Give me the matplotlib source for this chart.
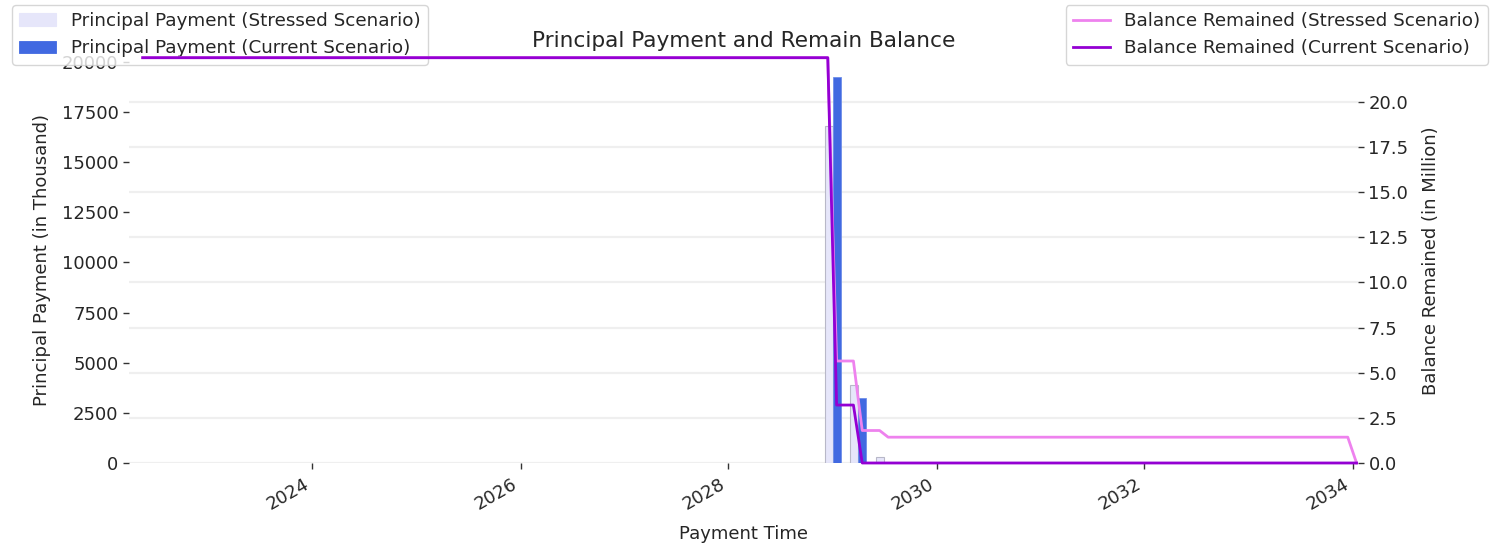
import matplotlib
matplotlib.use("Agg")
import matplotlib.pyplot as plt
import matplotlib.dates as mdates
import numpy as np
import pandas as pd

# ---- data ----
bar_dates = ["2029-01-01", "2029-04-01", "2029-07-01"]
principal_stressed = [16800, 3890, 310]      # in thousand
principal_current = [19240, 3220, 0]         # in thousand

bal_stressed_dates = ["2022-05-15", "2028-12-15", "2029-01-15", "2029-03-15",
                      "2029-04-15", "2029-06-15", "2029-07-15", "2033-12-15", "2034-01-15"]
bal_stressed = [22.45, 22.45, 5.65, 5.65, 1.80, 1.80, 1.43, 1.43, 0.0]   # in million

bal_current_dates = ["2022-05-15", "2028-12-15", "2029-01-15", "2029-03-15",
                     "2029-04-15", "2034-01-15"]
bal_current = [22.45, 22.45, 3.21, 3.21, 0.0, 0.0]                       # in million

x_limits = ["2022-03-28", "2034-01-20"]

# ---- style ----
txt = "#262626"
plt.rcParams.update({
    "font.family": ["DejaVu Sans"],
    "font.size": 13,
    "text.color": txt,
    "axes.labelcolor": txt,
    "xtick.color": txt,
    "ytick.color": txt,
})

fig = plt.figure(figsize=(14.92, 5.44), dpi=100)
L, R = 129 / 1492, 1358 / 1492
B, T = (544 - 463) / 544, (544 - 57.7) / 544
rect = [L, B, R - L, T - B]

ax_grid = fig.add_axes(rect, zorder=0)
ax = fig.add_axes(rect, zorder=1, sharex=ax_grid)
ax2 = fig.add_axes(rect, zorder=2, sharex=ax_grid)
for a in (ax, ax2):
    a.patch.set_visible(False)

bd = mdates.date2num(pd.to_datetime(bar_dates))
ax.bar(bd, principal_stressed, width=-28, align="edge", color="lavender",
       edgecolor="#b8b8c8", linewidth=0.8, label="Principal Payment (Stressed Scenario)")
ax.bar(bd, principal_current, width=28, align="edge", color="royalblue",
       edgecolor="#6f8fe8", linewidth=0.6, label="Principal Payment (Current Scenario)")

ds = mdates.date2num(pd.to_datetime(bal_stressed_dates))
dc = mdates.date2num(pd.to_datetime(bal_current_dates))
ax2.plot(ds, bal_stressed, color="violet", lw=2, clip_on=False,
         label="Balance Remained (Stressed Scenario)")
ax2.plot(dc, bal_current, color="darkviolet", lw=2, clip_on=False,
         label="Balance Remained (Current Scenario)")

ymax2 = max(bal_stressed + bal_current)
ax2.set_ylim(0, ymax2)
ax_grid.set_ylim(0, ymax2)
ax.set_ylim(0, max(principal_current + principal_stressed) * 1.05)

xl = mdates.date2num(pd.to_datetime(x_limits))
ax_grid.set_xlim(xl[0], xl[1])

# grid axes: only grid, aligned with right axis ticks
ax_grid.yaxis.set_major_locator(plt.MultipleLocator(2.5))
ax2.yaxis.set_major_locator(plt.MultipleLocator(2.5))
ax_grid.grid(axis="y", color="#efefef", lw=1.6)
ax_grid.tick_params(left=False, labelleft=False, bottom=False, labelbottom=False)
for s in ax_grid.spines.values():
    s.set_visible(False)

ax.yaxis.set_major_locator(plt.MultipleLocator(2500))
ax.xaxis.set_major_locator(mdates.YearLocator(2))
ax.xaxis.set_major_formatter(mdates.DateFormatter("%Y"))
ax.tick_params(axis="x", labelrotation=30, pad=5)
for lab in ax.get_xticklabels():
    lab.set_ha("right")
ax.tick_params(axis="both", length=4, width=1, color="#333333")

ax2.yaxis.tick_right()
ax2.yaxis.set_label_position("right")
ax2.tick_params(bottom=False, labelbottom=False, left=False, labelleft=False,
                length=4, width=1, color="#333333")
ax2.yaxis.set_major_formatter(plt.FormatStrFormatter("%.1f"))

for a in (ax, ax2):
    for s in a.spines.values():
        s.set_visible(False)

ax.set_xlabel("Payment Time", labelpad=8)
ax.set_ylabel("Principal Payment (in Thousand)", labelpad=8)
ax2.set_ylabel("Balance Remained (in Million)", labelpad=10)
ax2.set_title("Principal Payment and Remain Balance", fontsize=15.6, pad=8)

leg1 = ax.legend(loc="upper left", bbox_to_anchor=(12 / 1492, 1 - 5 / 544),
                 bbox_transform=fig.transFigure, borderaxespad=0, fontsize=13.2)
for p, c in zip(leg1.get_patches(), ["lavender", "royalblue"]):
    p.set_edgecolor(c)
ax2.legend(loc="upper right", bbox_to_anchor=(1488 / 1492, 1 - 5 / 544),
           bbox_transform=fig.transFigure, borderaxespad=0, fontsize=13.2)

fig.savefig("out.png", dpi=100)
